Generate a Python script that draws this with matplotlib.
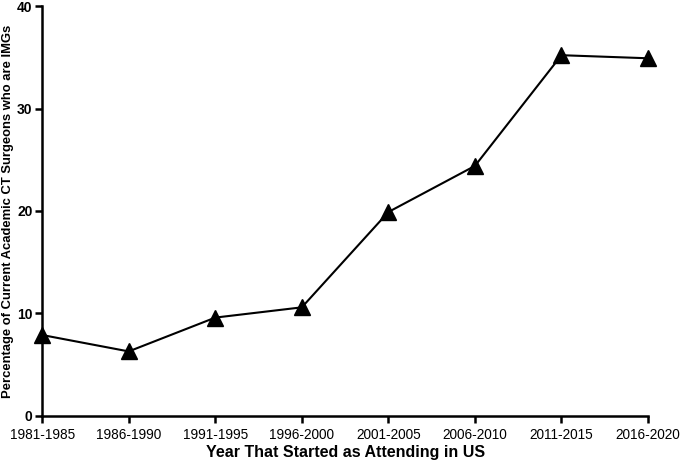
import matplotlib.pyplot as plt

periods = ["1981-1985", "1986-1990", "1991-1995", "1996-2000",
           "2001-2005", "2006-2010", "2011-2015", "2016-2020"]
pct_img = [7.9, 6.3, 9.6, 10.6, 19.9, 24.4, 35.2, 34.9]
yticks = [0, 10, 20, 30, 40]

plt.rcParams['font.family'] = ['Liberation Sans', 'DejaVu Sans']

fig = plt.figure(figsize=(6.8, 4.62), dpi=100)
ax = fig.add_axes([0.062, 0.0996, 0.891, 0.8874])

x = list(range(len(periods)))
ax.plot(x, pct_img, color='black', lw=1.5, marker='^', markersize=11,
        clip_on=False, zorder=3)

ax.set_xlim(0, len(periods) - 1)
ax.set_ylim(0, 40)
ax.set_xticks(x)
ax.set_xticklabels(periods, fontsize=9.8)
ax.set_yticks(yticks)
ax.set_yticklabels([str(v) for v in yticks], fontsize=10, fontweight='bold')

for s in ['top', 'right']:
    ax.spines[s].set_visible(False)
for s in ['left', 'bottom']:
    ax.spines[s].set_linewidth(1.8)
ax.tick_params(width=1.8, length=5, pad=2)
ax.tick_params(axis='x', pad=3.5)

ax.set_xlabel("Year That Started as Attending in US", fontsize=11.5,
              fontweight='bold', labelpad=2.5)
ax.set_ylabel("Percentage of Current Academic CT Surgeons who are IMGs",
              fontsize=9.4, fontweight='bold')
ax.yaxis.set_label_coords(-0.046, 0.5)

fig.savefig("out.png", dpi=100)
